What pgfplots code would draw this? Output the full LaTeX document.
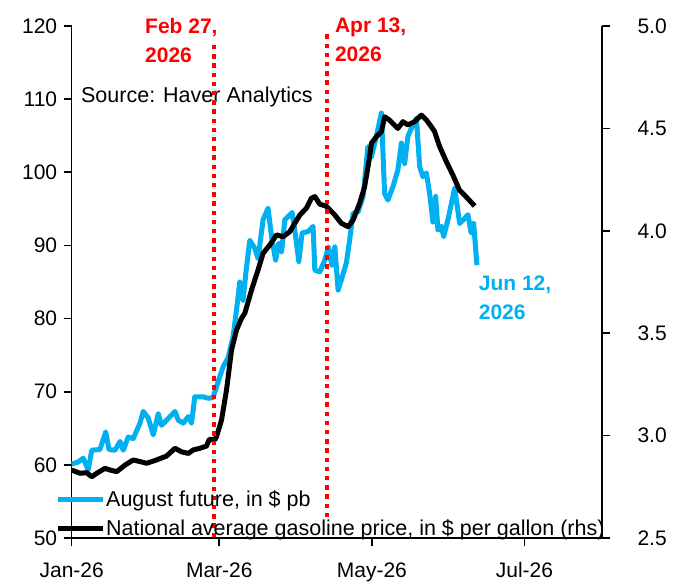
\documentclass[border=0pt]{standalone}
\usepackage{pgfplots}
\pgfplotsset{compat=1.18}
\usepackage{fontspec}
\setmainfont{Liberation Sans}
\definecolor{fblue}{RGB}{0,176,240}
\definecolor{fred}{RGB}{255,0,0}

\pgfplotstableread{
day val
0 60.1
2.6 60.4
4.6 60.9
6.6 59.3
8.0 62.0
11.3 62.1
13.6 64.5
14.9 62.1
17.3 62.0
19.3 63.2
20.6 62.0
22.6 63.8
24.6 63.6
27.3 65.7
28.6 67.3
30.6 66.4
32.6 64.1
34.6 67.0
35.9 65.4
37.9 66.1
41.3 67.3
42.6 66.1
44.6 65.7
46.6 66.6
47.9 65.7
49.2 69.3
52.6 69.3
54.6 69.1
56.5 69.2
57.9 70.7
60.5 73.4
62.5 74.6
64.5 77.5
65.9 81.2
67.2 85.0
68.5 82.5
69.9 87.1
71.2 90.7
73.2 89.6
74.5 88.2
76.5 93.5
78.5 95.1
79.9 91.2
81.5 88.0
82.8 90.3
83.9 89.1
85.2 93.5
88.1 94.5
89.2 92.1
90.8 87.8
92.1 91.7
94.5 91.9
96.5 92.6
97.2 86.6
99.2 86.4
101.2 88.0
102.6 89.8
104.0 87.3
105.2 89.8
106.5 83.9
107.8 85.3
109.8 87.6
111.1 90.7
112.5 94.4
114.5 94.6
116.5 96.7
118.4 103.5
119.8 102.1
121.8 104.9
123.8 108.1
125.1 97.1
126.4 96.2
128.4 98.0
130.4 100.3
131.8 104.0
133.1 101.2
134.4 104.9
136.4 106.5
137.8 107.4
139.1 100.8
140.4 99.4
141.8 99.9
143.1 97.1
144.4 93.2
145.5 96.7
146.4 92.1
147.8 92.6
148.7 91.2
150.4 93.5
153.1 97.8
155.1 93.0
157.1 93.7
158.4 94.2
159.7 91.7
160.7 93.0
162.0 87.3
}\futuretab

\pgfplotstableread{
day val
0 2.832
3.3 2.816
6.0 2.819
8.0 2.799
10.0 2.816
13.3 2.840
15.3 2.832
18.0 2.824
21.3 2.856
24.6 2.881
27.3 2.873
30.0 2.865
33.9 2.881
37.9 2.900
41.3 2.938
43.9 2.921
46.6 2.913
48.6 2.930
51.2 2.938
53.9 2.949
55.0 2.982
57.2 2.979
57.9 2.995
59.9 3.076
61.9 3.223
63.9 3.418
65.9 3.516
67.9 3.573
69.2 3.597
71.9 3.711
74.5 3.809
76.5 3.890
79.2 3.931
81.9 3.980
84.5 3.971
87.2 3.996
89.2 4.037
91.2 4.077
93.8 4.110
95.8 4.159
97.2 4.167
99.2 4.130
101.8 4.120
105.2 4.077
107.8 4.037
110.5 4.020
112.5 4.053
115.1 4.134
117.1 4.215
118.9 4.346
119.8 4.427
121.8 4.460
123.8 4.484
125.1 4.557
127.0 4.541
130.4 4.500
132.4 4.533
134.4 4.517
137.1 4.533
139.8 4.565
141.8 4.541
143.8 4.508
145.1 4.484
147.1 4.411
149.8 4.337
152.4 4.272
155.0 4.199
157.6 4.167
161.1 4.121
}\gastab

\begin{document}
\begin{tikzpicture}[font=\fontsize{21}{25}\selectfont]
\path[use as bounding box] (-71.7pt,-49pt) rectangle (608.3pt,538pt);
\pgfplotsset{
  common/.style={
    at={(0pt,0pt)}, anchor=south west,
    scale only axis, width=530.3pt, height=512pt,
    xmin=0, xmax=212, clip=false,
    tick align=outside, major tick length=8pt,
    tick style={black, line width=1.6pt},
    axis line style={-, black, line width=1.6pt},
    /pgf/number format/assume math mode=true,
    ticklabel style={font=\fontsize{21}{25}\selectfont},
  }
}
\begin{axis}[common,
  ymin=50, ymax=120,
  axis y line*=left, axis x line*=bottom,
  xtick={0,59,120,181}, xticklabels={Jan-26,Mar-26,May-26,Jul-26},
  xticklabel style={yshift=-13pt},
  yticklabel style={xshift=-3pt},
  ytick={50,60,70,80,90,100,110,120},
]
\addplot[fblue, line width=5pt, line join=round] table[x=day,y=val] {\futuretab};
\node[anchor=west, inner sep=0pt, font=\fontsize{21.5}{25}\selectfont] at (axis cs:3.7,110.3) {Source: Haver Analytics};
\node[anchor=west, align=left, inner sep=0pt, text=fred, font=\fontsize{21}{29}\bfseries] at (axis cs:29.3,118.0) {Feb 27,\\2026};
\node[anchor=west, align=left, inner sep=0pt, text=fred, font=\fontsize{21}{29}\bfseries] at (axis cs:105.2,118.15) {Apr 13,\\2026};
\node[anchor=west, align=left, inner sep=0pt, text=fblue, font=\fontsize{21}{29}\bfseries] at (axis cs:162.7,82.8) {Jun 12,\\2026};
\end{axis}
\begin{axis}[common,
  ymin=2.5, ymax=5.0,
  axis y line*=right, axis x line=none,
  ytick={2.5,3.0,3.5,4.0,4.5,5.0},
  yticklabel style={xshift=24pt},
  yticklabel={\pgfmathprintnumber[fixed, fixed zerofill, precision=1]{\tick}},
  legend cell align=left,
  legend style={at={(-0.0315,0)}, anchor=south west, draw=none, fill=none,
    inner sep=0pt, row sep=9pt, font=\fontsize{21.5}{25}\selectfont,
    nodes={inner sep=1pt}},
  legend image code/.code={\draw[#1] (0pt,0pt) -- (45pt,0pt);},
]
\addlegendimage{fblue, line width=5pt}
\addlegendentry{August future, in \$ pb}
\addplot[black, line width=5pt, line join=round] table[x=day,y=val] {\gastab};
\addlegendentry{National average gasoline price, in \$ per gallon (rhs)}
\addplot[fred, line width=4pt, dash pattern=on 4.4pt off 4.8pt, forget plot] coordinates {(57,2.505) (57,4.922)};
\addplot[fred, line width=4pt, dash pattern=on 4.4pt off 4.8pt, forget plot] coordinates {(102,2.602) (102,4.971)};
\end{axis}
\end{tikzpicture}
\end{document}
